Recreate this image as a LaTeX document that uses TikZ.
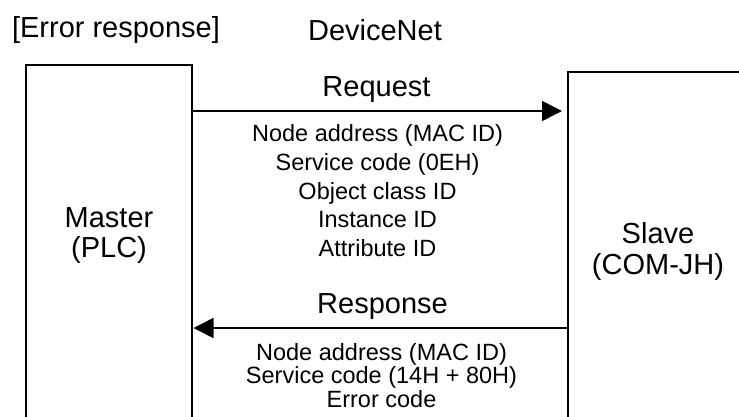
\documentclass[tikz,border=0pt]{standalone}
\usepackage{fontspec}
\setmainfont{Liberation Sans}
\usetikzlibrary{arrows.meta}
\tikzset{
  frame/.style={draw=none, minimum width=#1, outer sep=0pt, inner sep=0pt},
  wall/.style={line width=1.6pt, line cap=rect},
  msg/.style={line width=1.6pt, -{Triangle[length=20pt,width=20pt]}},
  big/.style={inner sep=0pt, anchor=base, font=\fontsize{29}{32}\selectfont},
  small/.style={inner sep=0pt, anchor=base, font=\fontsize{23.5}{28}\selectfont},
}
\begin{document}
\begin{tikzpicture}[x=1pt,y=-1pt]
\useasboundingbox (0,0) rectangle (739,416);
\clip (0,0) rectangle (739,416);
% boxes
\node[frame=166, minimum height=351, anchor=north west] (master) at (26,65) {};
\node[frame=180, minimum height=344, anchor=north west] (slave) at (568,72) {};
\draw[wall] (master.south west) -- (master.north west) -- (master.north east) -- (master.south east);
\draw[wall] (slave.south west) -- (slave.north west) -- (slave.north east);
% headings
\node[big] (title) at (116,37.5) {[Error response]};
\node[big] (net) at (375,40) {DeviceNet};
% box labels
\node[big] (m1) at (109,227) {Master};
\node[big] (m2) at (109,257.5) {(PLC)};
\node[big] (s1) at (658,243) {Slave};
\node[big] (s2) at (658,274) {(COM-JH)};
% request
\node[big] (req) at (376.5,96.5) {Request};
\draw[msg] (master.east |- 0,111) -- ([xshift=-6pt]slave.west |- 0,111);
\node[small] (q1) at (377.5,141) {Node address (MAC ID)};
\node[small] (q2) at (377.5,170) {Service code (0EH)};
\node[small] (q3) at (377.5,199) {Object class ID};
\node[small] (q4) at (377.5,227.5) {Instance ID};
\node[small] (q5) at (377.5,256) {Attribute ID};
% response
\node[big] (res) at (382.5,313) {Response};
\draw[msg] (slave.west |- 0,328) -- ([xshift=1.5pt]master.east |- 0,328);
\node[small] (r1) at (381.5,360) {Node address (MAC ID)};
\node[small] (r2) at (381.5,383.5) {Service code (14H + 80H)};
\node[small] (r3) at (381.5,407) {Error code};
\end{tikzpicture}
\end{document}
